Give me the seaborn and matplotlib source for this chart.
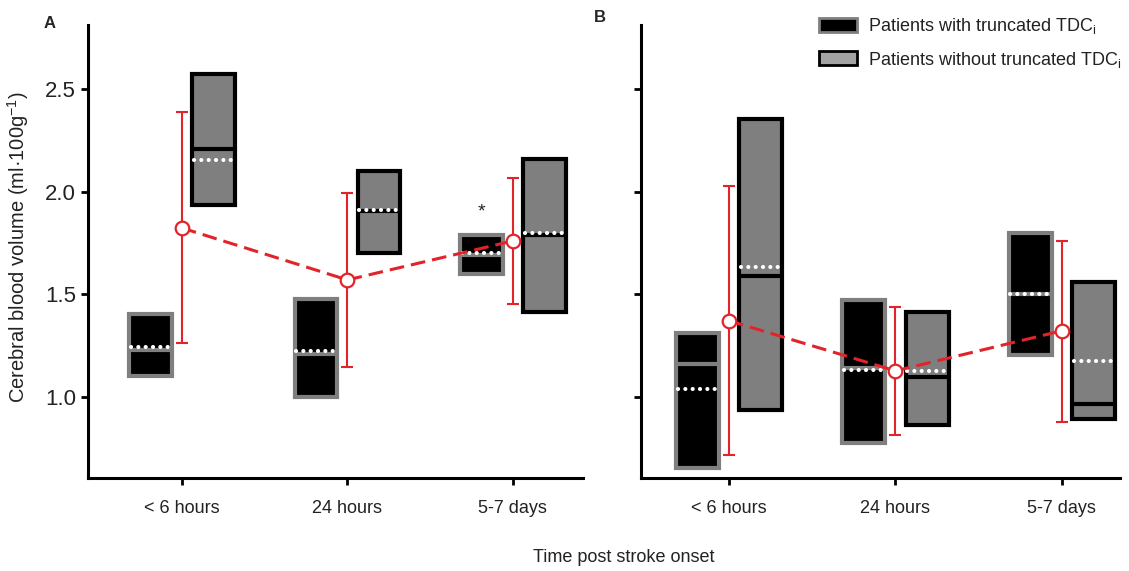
import numpy as np
import pandas as pd
import matplotlib
matplotlib.use("Agg")
import matplotlib.pyplot as plt
from matplotlib.patches import Patch
import seaborn as sns

categories = ["< 6 hours", "24 hours", "5-7 days"]

# Panel A: cerebral blood volume ranges per group
a_trunc_low = [1.10, 1.00, 1.60]
a_trunc_high = [1.405, 1.475, 1.79]
a_trunc_median = [1.23, 1.21, 1.69]
a_trunc_mean = [1.245, 1.225, 1.70]

a_full_low = [1.935, 1.70, 1.415]
a_full_high = [2.575, 2.10, 2.16]
a_full_median = [2.21, 1.905, 1.79]
a_full_mean = [2.155, 1.91, 1.80]

a_all_mean = [1.823, 1.570, 1.760]
a_all_low = [1.263, 1.146, 1.453]
a_all_high = [2.388, 1.993, 2.066]

# Panel B
b_trunc_low = [0.655, 0.775, 1.205]
b_trunc_high = [1.31, 1.47, 1.80]
b_trunc_median = [1.16, 1.14, 1.50]
b_trunc_mean = [1.04, 1.13, 1.50]

b_full_low = [0.935, 0.865, 0.89]
b_full_high = [2.355, 1.415, 1.56]
b_full_median = [1.59, 1.095, 0.965]
b_full_mean = [1.635, 1.127, 1.176]

b_all_mean = [1.371, 1.127, 1.322]
b_all_low = [0.717, 0.814, 0.878]
b_all_high = [2.026, 1.440, 1.762]

yticks = [1.0, 1.5, 2.0, 2.5]
ytick_labels = ["1.0", "1.5", "2.0", "2.5"]

sns.set_theme(style="ticks")
plt.rcParams["font.family"] = ["Liberation Sans", "DejaVu Sans"]

BLACK = "#000000"
GREY = "#7f7f7f"
RED = "#e2232a"
OFFSET = 0.19
WIDTH = 0.258

fig = plt.figure(figsize=(11.29, 5.71), dpi=100)
axA = fig.add_axes([0.0779, 0.1629, 0.4384, 0.7933])
axB = fig.add_axes([0.5678, 0.1629, 0.4243, 0.7933])


def draw_panel(ax, trunc, full, overall, xlim):
    x = np.arange(len(categories))
    groups = [
        (x - OFFSET, trunc, BLACK, GREY),
        (x + OFFSET, full, GREY, BLACK),
    ]
    for xs, (low, high, median, mean), face, edge in groups:
        low = np.asarray(low)
        high = np.asarray(high)
        ax.bar(xs, high - low, bottom=low, width=WIDTH, color=face,
               edgecolor=edge, linewidth=3, zorder=2)
        ax.hlines(median, xs - WIDTH / 2, xs + WIDTH / 2, colors=edge,
                  linewidth=3, zorder=3)
        dots = ax.hlines(mean, xs - WIDTH / 2 + 0.01, xs + WIDTH / 2,
                         colors="white", linewidth=3.0,
                         linestyles=[(0, (0.01, 1.75))], zorder=4)
        dots.set_capstyle("round")

    mean, low, high = (np.asarray(v) for v in overall)
    ax.errorbar(x, mean, yerr=[mean - low, high - mean], fmt="none",
                ecolor=RED, elinewidth=1.5, capsize=4.5, capthick=1.5, zorder=5)
    df = pd.DataFrame({"time": x, "cbv": mean})
    sns.lineplot(data=df, x="time", y="cbv", ax=ax, color=RED, linewidth=2.2,
                 linestyle=(0, (4.8, 2.3)), marker="o", markersize=9.8,
                 markerfacecolor="white", markeredgecolor=RED,
                 markeredgewidth=1.6, zorder=6)

    ax.set_xlim(*xlim)
    ax.set_ylim(0.605, 2.812)
    ax.set_xticks(x)
    ax.set_xticklabels(categories, fontsize=13)
    ax.set_yticks(yticks)
    ax.set_xlabel("")
    ax.set_ylabel("")
    sns.despine(ax=ax)
    for side in ("left", "bottom"):
        ax.spines[side].set_linewidth(2.2)
        ax.spines[side].set_color("black")
    ax.tick_params(axis="both", direction="out", length=5, width=2,
                   color="black", labelcolor="#222222")
    ax.tick_params(axis="x", pad=11)
    ax.set_facecolor("white")


draw_panel(axA,
           (a_trunc_low, a_trunc_high, a_trunc_median, a_trunc_mean),
           (a_full_low, a_full_high, a_full_median, a_full_mean),
           (a_all_mean, a_all_low, a_all_high),
           (-0.568, 2.423))
draw_panel(axB,
           (b_trunc_low, b_trunc_high, b_trunc_median, b_trunc_mean),
           (b_full_low, b_full_high, b_full_median, b_full_mean),
           (b_all_mean, b_all_low, b_all_high),
           (-0.529, 2.35))

axA.set_yticklabels(ytick_labels, fontsize=16)
axB.tick_params(axis="y", labelleft=False)

axA.text(2 - OFFSET, 1.90, "*", ha="center", va="center", fontsize=14,
         color="#222222")

fig.text(50 / 1129, 1 - 23 / 571, "A", fontsize=12, fontweight="bold",
         ha="center", va="center")
fig.text(600 / 1129, 1 - 18 / 571, "B", fontsize=12, fontweight="bold",
         ha="center", va="center")

fig.text(18 / 1129, 1 - 247 / 571,
         r"Cerebral blood volume (ml·100g$^{\mathregular{-1}}$)",
         rotation=90, ha="center", va="center", fontsize=14.5, color="#222222")
fig.text(624 / 1129, 1 - 558 / 571, "Time post stroke onset",
         ha="center", va="center", fontsize=13, color="#222222")

handles = [
    Patch(facecolor=BLACK, edgecolor=GREY, linewidth=2,
          label=r"Patients with truncated TDC$_\mathregular{i}$"),
    Patch(facecolor="#a3a3a3", edgecolor=BLACK, linewidth=2,
          label=r"Patients without truncated TDC$_\mathregular{i}$"),
]
fig.legend(handles=handles, loc="upper left",
           bbox_to_anchor=(819 / 1129, 1 - 16 / 571), frameon=False,
           fontsize=13, handlelength=2.1, handleheight=0.8,
           handletextpad=0.6, labelspacing=0.75, borderpad=0,
           borderaxespad=0, labelcolor="#222222")

fig.savefig("out.png", dpi=100, facecolor="white")
